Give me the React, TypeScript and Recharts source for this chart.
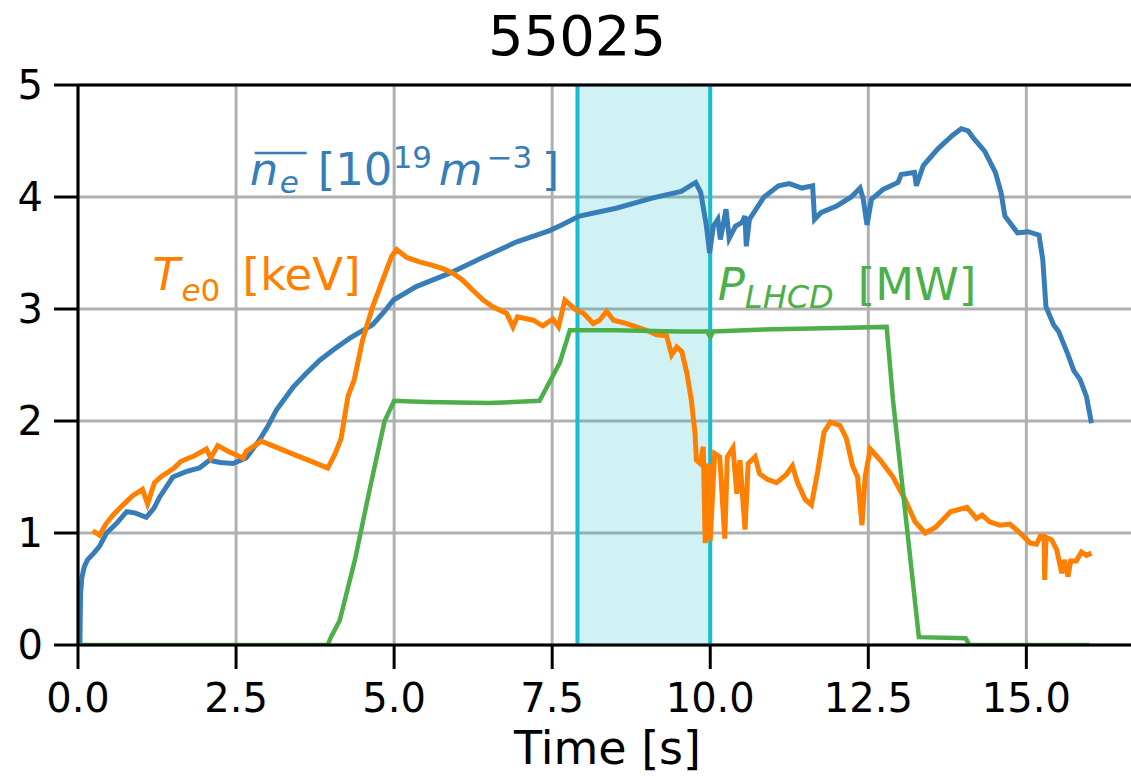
import React from "react";
import {
  LineChart, Line, XAxis, YAxis, CartesianGrid, ReferenceArea, ReferenceLine, ReferenceDot,
} from "recharts";

// n_e line-averaged density [1e19 m^-3]
const neTime = [
  0.03, 0.04, 0.06, 0.1, 0.15, 0.25, 0.34, 0.45, 0.6, 0.77, 0.9, 1.08, 1.2, 1.29, 1.5, 1.72, 1.92, 2.08, 2.25,
  2.45, 2.66, 2.87, 3.0, 3.14, 3.4, 3.6, 3.82, 4.05, 4.3, 4.66, 4.85, 4.99, 5.35, 5.88, 6.4, 6.94, 7.46, 7.65,
  7.93, 8.51, 9.08, 9.54, 9.77, 9.85, 9.94, 9.99, 10.05, 10.12, 10.16, 10.25, 10.3, 10.4, 10.5, 10.55, 10.57,
  10.62, 10.85, 11.08, 11.25, 11.45, 11.62, 11.65, 11.75, 12.0, 12.23, 12.37, 12.42, 12.48, 12.55, 12.74, 12.97,
  13.02, 13.23, 13.26, 13.37, 13.6, 13.83, 13.97, 14.08, 14.17, 14.34, 14.51, 14.6, 14.66, 14.86, 15.03, 15.2,
  15.26, 15.31, 15.43, 15.51, 15.66, 15.75, 15.85, 15.95, 16.03,
];
const neValue = [
  0, 0.45, 0.6, 0.7, 0.76, 0.82, 0.88, 1.0, 1.08, 1.19, 1.18, 1.14, 1.22, 1.32, 1.5, 1.55, 1.58, 1.65, 1.63,
  1.62, 1.67, 1.83, 1.95, 2.1, 2.3, 2.42, 2.54, 2.64, 2.74, 2.86, 2.98, 3.08, 3.2, 3.32, 3.46, 3.6, 3.7, 3.75,
  3.83, 3.9, 3.99, 4.05, 4.13, 4.04, 3.74, 3.5, 3.74, 3.8, 3.62, 3.89, 3.63, 3.74, 3.77, 3.83, 3.56,
  3.8, 4.0, 4.1, 4.12, 4.08, 4.1, 3.8, 3.86, 3.92, 4.0, 4.08, 3.98, 3.75, 3.98, 4.07, 4.13,
  4.2, 4.22, 4.1, 4.28, 4.43, 4.55, 4.61, 4.59, 4.52, 4.41, 4.22, 4.04, 3.83, 3.68, 3.69, 3.66,
  3.44, 3.02, 2.86, 2.8, 2.59, 2.45, 2.37, 2.22, 1.98,
];

// Te0 [keV]
const teTime = [
  0.23, 0.34, 0.44, 0.57, 0.73, 0.86, 1.02, 1.1, 1.21, 1.31, 1.52, 1.63, 1.84, 2.03, 2.1, 2.21, 2.37, 2.61, 2.66,
  2.9, 3.16, 3.42, 3.69, 3.95, 4.06, 4.16, 4.27, 4.37, 4.5, 4.66, 4.82, 4.96, 5.04, 5.2, 5.4, 5.61, 5.77, 5.93,
  6.08, 6.24, 6.41, 6.56, 6.78, 6.88, 6.95, 7.2, 7.35, 7.51, 7.6, 7.7, 7.88, 8.0, 8.15, 8.25, 8.36, 8.47, 8.68,
  8.83, 8.99, 9.15, 9.31, 9.39, 9.47, 9.55, 9.63, 9.7, 9.76, 9.78, 9.84, 9.89, 9.92, 9.97, 10.0, 10.07, 10.15,
  10.23, 10.27, 10.36, 10.42, 10.47, 10.55, 10.6, 10.71, 10.78, 10.9, 11.05, 11.2, 11.3, 11.38, 11.5, 11.6, 11.7,
  11.8, 11.9, 12.05, 12.15, 12.25, 12.33, 12.4, 12.45, 12.53, 12.69, 12.89, 13.08, 13.24, 13.4, 13.56, 13.8,
  14.06, 14.21, 14.3, 14.42, 14.58, 14.74, 14.9, 15.06, 15.16, 15.22, 15.28, 15.29, 15.31, 15.4, 15.48, 15.56,
  15.6, 15.66, 15.7, 15.79, 15.87, 15.95, 16.03,
];
const teValue = [
  1.02, 0.98, 1.08, 1.17, 1.26, 1.33, 1.39, 1.26, 1.45, 1.5, 1.58, 1.64, 1.69, 1.75, 1.67, 1.78, 1.73, 1.67, 1.73,
  1.82, 1.76, 1.7, 1.64, 1.58, 1.7, 1.84, 2.22, 2.37, 2.72, 3.02, 3.26, 3.47, 3.53, 3.46, 3.42, 3.39, 3.36, 3.32,
  3.26, 3.17, 3.08, 3.02, 2.96, 2.84, 2.93, 2.9, 2.85, 2.91, 2.84, 3.08, 2.99, 2.96, 2.87, 2.9, 2.98, 2.9, 2.87,
  2.84, 2.81, 2.77, 2.76, 2.59, 2.66, 2.62, 2.43, 2.19, 1.89, 1.65, 1.62, 1.77, 0.91, 1.62, 0.93, 1.71, 1.68,
  0.95, 1.68, 1.76, 1.35, 1.65, 1.03, 1.62, 1.68, 1.53, 1.48, 1.45, 1.52, 1.6, 1.45, 1.3, 1.25, 1.55,
  1.9, 1.99, 1.96, 1.85, 1.6, 1.5, 1.07, 1.5, 1.75, 1.65, 1.5, 1.3, 1.1, 1.0, 1.05, 1.19,
  1.23, 1.13, 1.16, 1.1, 1.07, 1.08, 1.0, 0.91, 0.9, 0.97, 0.97, 0.58, 0.96, 0.94, 0.85, 0.64,
  0.76, 0.61, 0.75, 0.75, 0.83, 0.8, 0.82,
];

// P_LHCD [MW]
const lhTime = [0, 3.95, 4.0, 4.14, 4.38, 4.61, 4.85, 5.0, 5.5, 6.5, 7.3, 7.62, 7.78, 8.5, 9.5, 9.95, 10.0, 10.05, 11.0, 12.0, 12.79, 12.89, 13.3, 14.04, 14.1, 16.0];
const lhValue = [0, 0, 0.07, 0.22, 0.76, 1.38, 2.0, 2.18, 2.17, 2.16, 2.18, 2.52, 2.81, 2.81, 2.8, 2.8, 2.75, 2.8, 2.82, 2.83, 2.84, 2.19, 0.07, 0.06, 0, 0];

const xTicks = [0, 2.5, 5, 7.5, 10, 12.5, 15];
const yTicks = [0, 1, 2, 3, 4, 5];
const windowStart = 7.9;
const windowEnd = 10.0;

const BLUE = "#377eb8";
const ORANGE = "#ff7f00";
const GREEN = "#4daf4a";
const CYAN = "#17becf";
const FONT = "DejaVu Sans";

const toRows = (t: number[], v: number[]) => t.map((x, i) => ({ t: x, v: v[i] }));
const neData = toRows(neTime, neValue);
const teData = toRows(teTime, teValue);
const lhData = toRows(lhTime, lhValue);

const NeLabel = ({ cx, cy }: any) => (
  <g>
    <line x1={cx + 5} x2={cx + 57} y1={cy - 32} y2={cy - 32} stroke={BLUE} strokeWidth={2.5} />
    <text y={cy} fill={BLUE} fontFamily={FONT} fontSize={45}>
      <tspan x={cx} fontStyle="italic">n</tspan>
      <tspan x={cx + 30} dy={8} fontStyle="italic" fontSize={31}>e</tspan>
      <tspan x={cx + 68} dy={-8}>[10</tspan>
      <tspan x={cx + 143} dy={-17} fontSize={31}>19</tspan>
      <tspan x={cx + 189} dy={17} fontStyle="italic">m</tspan>
      <tspan x={cx + 237} dy={-17} fontSize={31}>−3</tspan>
      <tspan x={cx + 292} dy={17}>]</tspan>
    </text>
  </g>
);

const TeLabel = ({ cx, cy }: any) => (
  <text y={cy} fill={ORANGE} fontFamily={FONT} fontSize={45}>
    <tspan x={cx} fontStyle="italic">T</tspan>
    <tspan x={cx + 29} dy={11} fontStyle="italic" fontSize={31}>e</tspan>
    <tspan x={cx + 48} fontSize={31}>0</tspan>
    <tspan x={cx + 90} dy={-11}>[keV]</tspan>
  </text>
);

const LhLabel = ({ cx, cy }: any) => (
  <text y={cy} fill={GREEN} fontFamily={FONT} fontSize={45}>
    <tspan x={cx} fontStyle="italic">P</tspan>
    <tspan x={cx + 27} dy={7.5} fontStyle="italic" fontSize={32}>LHCD</tspan>
    <tspan x={cx + 140} dy={-7.5}>[MW]</tspan>
  </text>
);

export default function App() {
  return (
    <div style={{ position: "absolute", left: 0, top: 0, width: 1131, height: 776, overflow: "hidden", background: "#fff" }}>
      <svg width={1131} height={80} style={{ position: "absolute", left: 0, top: 0 }}>
        <text x={577} y={55} textAnchor="middle" fontFamily={FONT} fontSize={56} fill="#000">55025</text>
      </svg>
      <div style={{ position: "absolute", left: 0, top: 0 }}>
        <LineChart width={1160} height={776} margin={{ top: 85, right: 23, bottom: 0, left: 0 }}>
          <CartesianGrid stroke="#b0b0b0" strokeWidth={3} />
          <ReferenceArea x1={windowStart} x2={windowEnd} fill={CYAN} fillOpacity={0.2} stroke="none" />
          <ReferenceLine x={windowStart} stroke={CYAN} strokeWidth={4} />
          <ReferenceLine x={windowEnd} stroke={CYAN} strokeWidth={4} />
          <XAxis
            type="number" dataKey="t" domain={[0, 16.75]} allowDataOverflow ticks={xTicks}
            tickFormatter={(v: number) => v.toFixed(1)} height={131}
            axisLine={{ stroke: "#000", strokeWidth: 3 }} tickLine={{ stroke: "#000", strokeWidth: 3 }}
            tickSize={24} tickMargin={15}
            tick={{ fontSize: 40, fill: "#000", fontFamily: FONT }}
            label={{ value: "Time [s]", position: "insideBottom", offset: 12, fontSize: 46, fill: "#000", fontFamily: FONT }}
          />
          <YAxis
            type="number" domain={[0, 5]} allowDataOverflow ticks={yTicks} width={78}
            axisLine={{ stroke: "#000", strokeWidth: 3 }} tickLine={{ stroke: "#000", strokeWidth: 3 }}
            tickSize={24} tickMargin={11}
            tick={{ fontSize: 40, fill: "#000", fontFamily: FONT }}
          />
          <ReferenceLine y={5} stroke="#000" strokeWidth={3} />
          <Line data={neData} dataKey="v" type="linear" stroke={BLUE} strokeWidth={5} dot={false} isAnimationActive={false} />
          <Line data={teData} dataKey="v" type="linear" stroke={ORANGE} strokeWidth={5} dot={false} isAnimationActive={false} />
          <Line data={lhData} dataKey="v" type="linear" stroke={GREEN} strokeWidth={4.5} dot={false} isAnimationActive={false} />
          <ReferenceDot x={2.715} y={4.107} r={0} shape={(p: any) => <NeLabel cx={p.cx} cy={p.cy} />} />
          <ReferenceDot x={1.18} y={3.17} r={0} shape={(p: any) => <TeLabel cx={p.cx} cy={p.cy} />} />
          <ReferenceDot x={10.12} y={3.08} r={0} shape={(p: any) => <LhLabel cx={p.cx} cy={p.cy} />} />
        </LineChart>
      </div>
    </div>
  );
}
